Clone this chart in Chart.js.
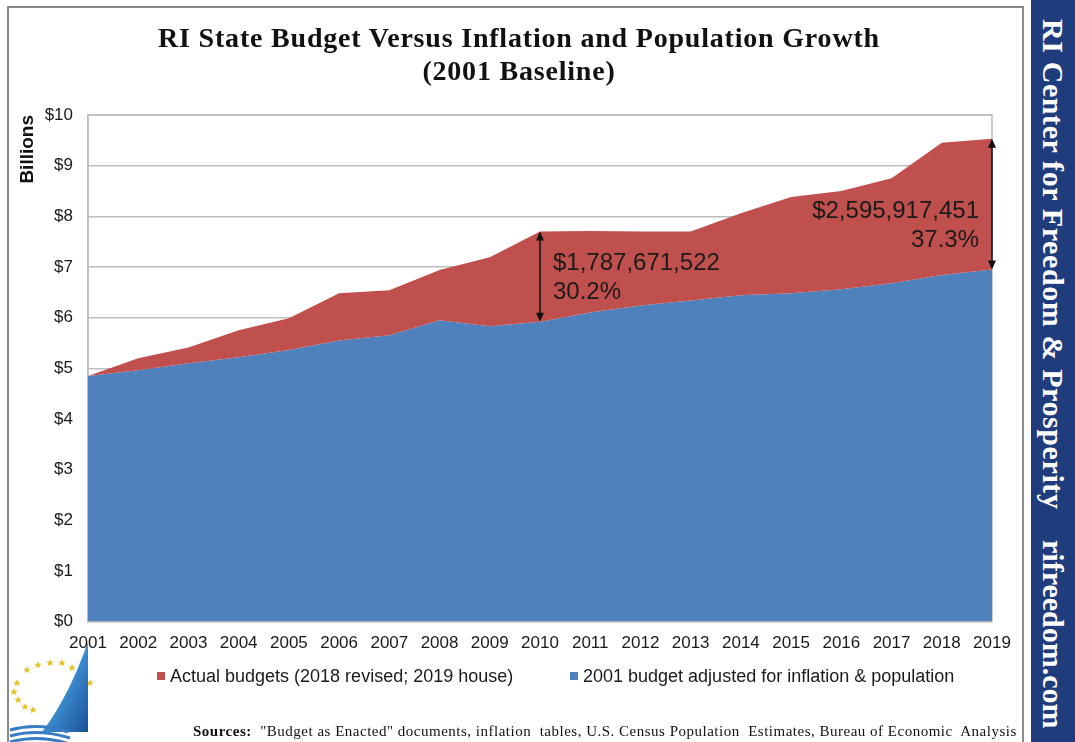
<!DOCTYPE html>
<html>
<head>
<meta charset="utf-8">
<title>RI State Budget Versus Inflation and Population Growth</title>
<script src="https://cdn.jsdelivr.net/npm/chart.js@4.4.1/dist/chart.umd.min.js"></script>
<style>
  html, body { margin: 0; padding: 0; background: #fff; }
  body { width: 1075px; height: 742px; position: relative; overflow: hidden; font-family: "Liberation Sans", Arial, sans-serif; }
  #frame { position: absolute; left: 7px; top: 6px; width: 1017px; height: 760px; border: 2px solid #8a8a8a; box-sizing: border-box; }
  #chartBox { position: absolute; left: 0; top: 0; width: 1025px; height: 742px; }
  #title { position: absolute; left: 19px; width: 1000px; top: 21px; text-align: center; font-family: "Liberation Serif", "Times New Roman", serif; font-weight: bold; font-size: 28px; line-height: 33px; letter-spacing: 0.8px; color: #111; }
  #banner { position: absolute; left: 1031px; top: 0; width: 44px; height: 742px; background: #1f3c7c; }
  .bannerText { position: absolute; left: 5px; writing-mode: vertical-rl; color: #fff; font-family: "Liberation Serif", "Times New Roman", serif; font-weight: bold; font-size: 30px; white-space: nowrap; }
  #legend { position: absolute; top: 664px; left: 0; width: 1025px; height: 24px; }
  .legendItem { position: absolute; top: 0; font-size: 18px; color: #1a1a1a; line-height: 24px; white-space: nowrap; }
  .legendItem span.box { display: inline-block; width: 8px; height: 8px; margin-right: 5px; vertical-align: 2px; }
  #sources { position: absolute; top: 723px; left: 193px; font-family: "Liberation Serif", "Times New Roman", serif; font-size: 15px; letter-spacing: 0.5px; color: #111; white-space: pre; }
  #logo { position: absolute; left: 8px; top: 640px; }
</style>
</head>
<body>
<div id="frame"></div>
<div id="chartBox"><canvas id="budgetChart"></canvas></div>
<div id="title">RI State Budget Versus Inflation and Population Growth<br>(2001 Baseline)</div>
<div id="legend"></div>
<div id="sources"><b>Sources:</b>  "Budget as Enacted" documents, inflation  tables, U.S. Census Population  Estimates, Bureau of Economic  Analysis</div>
<svg id="logo" width="95" height="102" viewBox="0 0 95 102">
  <defs>
    <linearGradient id="sail" x1="0" y1="0" x2="1" y2="1">
      <stop offset="0" stop-color="#a9d3f0"/>
      <stop offset="0.5" stop-color="#3d8fd0"/>
      <stop offset="1" stop-color="#1a4f9a"/>
    </linearGradient>
    <polygon id="star" points="0,-4 1.1,-1.3 3.8,-1.2 1.7,0.5 2.4,3.2 0,1.6 -2.4,3.2 -1.7,0.5 -3.8,-1.2 -1.1,-1.3"/>
  </defs>
  <g fill="#e8c22a">
    <use href="#star" x="19" y="30"/><use href="#star" x="30" y="25"/><use href="#star" x="42" y="23"/>
    <use href="#star" x="54" y="23"/><use href="#star" x="64" y="28"/><use href="#star" x="75" y="35"/>
    <use href="#star" x="82" y="43"/><use href="#star" x="9" y="43"/><use href="#star" x="6" y="52"/>
    <use href="#star" x="10" y="60"/><use href="#star" x="17" y="67"/><use href="#star" x="25" y="70"/>
  </g>
  <path d="M80 2 C70 30 55 65 34 92 L80 92 Z" fill="url(#sail)"/>
  <path d="M2 90 Q30 82 60 92" stroke="#3a7cc4" stroke-width="3" fill="none"/>
  <path d="M2 96 Q30 88 62 98" stroke="#3a7cc4" stroke-width="3" fill="none"/>
  <path d="M2 102 Q30 94 62 104" stroke="#3a7cc4" stroke-width="3" fill="none"/>
</svg>
<div id="banner">
  <div class="bannerText" style="top: 19px; letter-spacing: 0.6px;">RI Center for Freedom &amp; Prosperity</div>
  <div class="bannerText" style="top: 540px;">rifreedom.com</div>
</div>

<script>
// 연도별 예산 (단위: 십억 달러)
const years = ['2001', '2002', '2003', '2004', '2005', '2006', '2007', '2008', '2009', '2010',
               '2011', '2012', '2013', '2014', '2015', '2016', '2017', '2018', '2019'];
const actualBudget = [4.85, 5.20, 5.41, 5.75, 5.99, 6.48, 6.54, 6.94, 7.19, 7.70,
                      7.71, 7.70, 7.70, 8.06, 8.38, 8.50, 8.75, 9.45, 9.53];
const adjustedBudget = [4.85, 4.96, 5.10, 5.22, 5.36, 5.55, 5.65, 5.95, 5.83, 5.92,
                        6.10, 6.24, 6.34, 6.44, 6.48, 6.56, 6.68, 6.84, 6.95];
const yTicks = [0, 1, 2, 3, 4, 5, 6, 7, 8, 9, 10];

const seriesLabels = ['Actual budgets (2018 revised; 2019 house)', '2001 budget adjusted for inflation & population'];
const seriesColors = ['#c0504d', '#4f81bd'];

// 차이 표시 (화살표 + 금액)
const gapYears = ['2010', '2019'];
const gapAmounts = ['$1,787,671,522', '$2,595,917,451'];
const gapPercents = ['30.2%', '37.3%'];

const textColor = '#1a1a1a';

// 플롯 영역 테두리
const plotBorder = {
    id: 'plotBorder',
    beforeDatasetsDraw(chart) {
        const { ctx, chartArea: a } = chart;
        ctx.save();
        ctx.strokeStyle = '#bdbdbd';
        ctx.lineWidth = 1.5;
        ctx.strokeRect(a.left, a.top, a.right - a.left, a.bottom - a.top);
        ctx.restore();
    }
};

// 화살표와 차이 금액
const gapArrows = {
    id: 'gapArrows',
    afterDatasetsDraw(chart) {
        const { ctx, scales: { x, y } } = chart;
        ctx.save();
        gapYears.forEach((yr, k) => {
            const i = years.indexOf(yr);
            const px = x.getPixelForValue(i);
            const top = y.getPixelForValue(actualBudget[i]);
            const bot = y.getPixelForValue(adjustedBudget[i]);
            ctx.strokeStyle = '#111';
            ctx.fillStyle = '#111';
            ctx.lineWidth = 1.5;
            ctx.beginPath();
            ctx.moveTo(px, top + 6);
            ctx.lineTo(px, bot - 6);
            ctx.stroke();
            ctx.beginPath();
            ctx.moveTo(px, top);
            ctx.lineTo(px - 4, top + 9);
            ctx.lineTo(px + 4, top + 9);
            ctx.closePath();
            ctx.fill();
            ctx.beginPath();
            ctx.moveTo(px, bot);
            ctx.lineTo(px - 4, bot - 9);
            ctx.lineTo(px + 4, bot - 9);
            ctx.closePath();
            ctx.fill();

            const last = k === gapYears.length - 1;
            ctx.font = '24px "Liberation Sans", Arial, sans-serif';
            ctx.fillStyle = textColor;
            ctx.textBaseline = 'middle';
            ctx.textAlign = last ? 'right' : 'left';
            const tx = last ? px - 13 : px + 13;
            ctx.fillText(gapAmounts[k], tx, bot - 58);
            ctx.fillText(gapPercents[k], tx, bot - 29);
        });
        ctx.restore();
    }
};

// HTML 범례
const htmlLegend = {
    id: 'htmlLegend',
    afterUpdate(chart) {
        const box = document.getElementById('legend');
        box.innerHTML = '';
        const lefts = [157, 570];
        chart.data.datasets.forEach((ds, i) => {
            const item = document.createElement('div');
            item.className = 'legendItem';
            item.style.left = lefts[i] + 'px';
            const sw = document.createElement('span');
            sw.className = 'box';
            sw.style.background = ds.backgroundColor;
            item.appendChild(sw);
            item.appendChild(document.createTextNode(ds.label));
            box.appendChild(item);
        });
    }
};

const ctx = document.getElementById('budgetChart').getContext('2d');
new Chart(ctx, {
    type: 'line',
    data: {
        labels: years,
        datasets: [{
            label: seriesLabels[0],
            data: actualBudget,
            backgroundColor: seriesColors[0],
            borderWidth: 0,
            pointRadius: 0,
            fill: '+1'
        }, {
            label: seriesLabels[1],
            data: adjustedBudget,
            backgroundColor: seriesColors[1],
            borderWidth: 0,
            pointRadius: 0,
            fill: 'origin'
        }]
    },
    options: {
        responsive: true,
        maintainAspectRatio: false,
        animation: false,
        layout: { padding: { left: 12, right: 33, top: 115, bottom: 76 } },
        scales: {
            x: {
                grid: { display: false, drawTicks: false },
                border: { display: false },
                ticks: {
                    padding: 12,
                    color: textColor,
                    maxRotation: 0,
                    autoSkip: false,
                    font: { family: '"Liberation Sans", Arial, sans-serif', size: 17 }
                }
            },
            y: {
                min: 0,
                max: 10,
                afterBuildTicks(scale) {
                    scale.ticks = yTicks.map(v => ({ value: v }));
                },
                afterFit(scale) { scale.width = 76; },
                grid: { color: '#bdbdbd', lineWidth: 1.5, drawTicks: false },
                border: { display: true, color: '#bdbdbd', width: 1.5 },
                ticks: {
                    padding: 15,
                    color: textColor,
                    font: { family: '"Liberation Sans", Arial, sans-serif', size: 17 },
                    callback: v => '$' + v
                },
                title: {
                    display: true,
                    text: 'Billions',
                    align: 'end',
                    color: '#111',
                    padding: { top: 4, bottom: 4 },
                    font: { family: '"Liberation Sans", Arial, sans-serif', size: 19, weight: 'bold' }
                }
            }
        },
        plugins: {
            legend: { display: false },
            tooltip: { enabled: false },
            title: { display: false }
        }
    },
    plugins: [plotBorder, gapArrows, htmlLegend]
});
</script>
</body>
</html>
